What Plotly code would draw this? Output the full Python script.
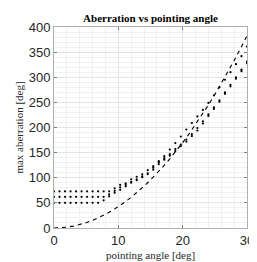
import plotly.graph_objects as go

# angle grid (deg) for dotted series
angles = [0.0, 0.857, 1.714, 2.571, 3.429, 4.286, 5.143, 6.0, 6.857, 7.714, 8.571,
          9.429, 10.286, 11.143, 12.0, 12.857, 13.714, 14.571, 15.429, 16.286, 17.143,
          18.0, 18.857, 19.714, 20.571, 21.429, 22.286, 23.143, 24.0, 24.857, 25.714,
          26.571, 27.429, 28.286, 29.143, 30.0]

series_a = [73, 73, 73, 73, 73, 73, 73, 73, 73, 73, 73,
            79, 86, 89, 97, 102, 107, 115, 123, 133, 143,
            156, 169, 182, 196, 209, 222, 235, 249, 264, 280,
            295, 310, 326, 342, 361]

series_b = [62, 62, 62, 62, 62, 62, 62, 62, 62, 62, 67,
            74, 81, 86, 92, 97, 103, 109, 120, 131, 139,
            147, 157, 166, 176, 187, 199, 212, 226, 240, 254,
            270, 285, 300, 315, 331]

series_c = [50, 50, 50, 50, 50, 50, 50, 50, 50, 55, 63,
            70, 76, 83, 90, 95, 101, 107, 116, 127, 136,
            144, 153, 163, 172, 183, 194, 208, 223, 237, 251,
            267, 282, 297, 312, 328]

# dashed reference curve
curve_x = list(range(0, 31))
curve_y = [0, 0.4, 1.7, 3.8, 6.8, 10.6, 15.3, 20.8, 27.2, 34.4, 42.5,
           51.4, 61.2, 71.8, 83.3, 95.6, 108.8, 122.8, 137.7, 153.4, 170,
           187.4, 205.7, 224.8, 244.8, 265.6, 287.3, 309.8, 333.2, 357.4, 382.5]

x_ticks = [0, 10, 20, 30]
y_ticks = [0, 50, 100, 150, 200, 250, 300, 350, 400]

fig = go.Figure()
for s in (series_a, series_b, series_c):
    fig.add_trace(go.Scatter(x=angles, y=s, mode="markers",
                             marker=dict(color="black", size=2.2, symbol="circle"),
                             showlegend=False))
fig.add_trace(go.Scatter(x=curve_x, y=curve_y, mode="lines",
                         line=dict(color="black", width=1.1, dash="4px,4px"),
                         showlegend=False))

axis_common = dict(
    showline=True, linecolor="#b0b0b0", linewidth=1, mirror="ticks",
    ticks="inside", ticklen=3, tickcolor="#808080",
    showgrid=True, gridcolor="#e4e4e4", gridwidth=1, zeroline=False,
    tickfont=dict(family="Liberation Sans, Arial, sans-serif", size=13, color="#262626"),
)

fig.update_xaxes(range=[0, 30], tickvals=x_ticks, ticktext=[str(v) for v in x_ticks],
                 minor=dict(dtick=2, showgrid=True, gridcolor="#f1f1f1", ticks=""),
                 title=dict(text="pointing angle [deg]", standoff=4,
                            font=dict(family="Liberation Serif, Times New Roman, serif", size=11, color="#262626")),
                 **axis_common)
fig.update_yaxes(range=[0, 400], tickvals=y_ticks, ticktext=[str(v) for v in y_ticks],
                 minor=dict(dtick=10, showgrid=True, gridcolor="#f1f1f1", ticks=""),
                 title=dict(text="max aberration [deg]", standoff=2,
                            font=dict(family="Liberation Serif, Times New Roman, serif", size=11, color="#262626")),
                 **axis_common)

fig.update_layout(
    width=257, height=262,
    margin=dict(l=38, r=11, t=19, b=36),
    paper_bgcolor="white", plot_bgcolor="white",
    title=dict(text="<b>Aberration vs pointing angle</b>", x=0.5, xref="paper", xanchor="center",
               y=0.962, yanchor="middle",
               font=dict(family="Liberation Serif, Times New Roman, serif", size=11, color="black")),
)

fig.write_html("out.html")
